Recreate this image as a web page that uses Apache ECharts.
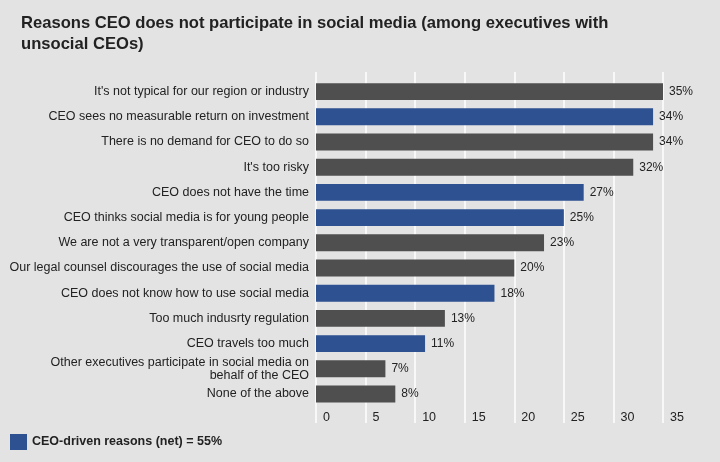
<!DOCTYPE html>
<html>
<head>
<meta charset="utf-8">
<script src="https://cdn.jsdelivr.net/npm/echarts@6/dist/echarts.min.js"></script>
<style>
  html, body { margin: 0; padding: 0; background: #e3e3e3; }
  #chart { width: 720px; height: 462px; }
</style>
</head>
<body>
<div id="chart"></div>
<script>
// reasons, top to bottom as in the reference
const categories = [
    "It's not typical for our region or industry",
    'CEO sees no measurable return on investment',
    'There is no demand for CEO to do so',
    "It's too risky",
    'CEO does not have the time',
    'CEO thinks social media is for young people',
    'We are not a very transparent/open company',
    'Our legal counsel discourages the use of social media',
    'CEO does not know how to use social media',
    'Too much indusrty regulation',
    'CEO travels too much',
    'Other executives participate in social media on\nbehalf of the CEO',
    'None of the above'
];
const values = [35, 34, 34, 32, 27, 25, 23, 20, 18, 13, 11, 7, 8];
// true = CEO-driven reason (blue bar)
const ceoDriven = [false, true, false, false, true, true, false, false, true, false, true, false, false];
const xTicks = [0, 5, 10, 15, 20, 25, 30, 35];
const legendLabel = 'CEO-driven reasons (net) = 55%';

const BLUE = '#2d5191';
const GRAY = '#4f4f4f';
const FONT = '"Liberation Sans", Arial, Helvetica, sans-serif';

const blueData = values.map((v, i) => ceoDriven[i] ? v : '-');
const grayData = values.map((v, i) => ceoDriven[i] ? '-' : v);

const chart = echarts.init(document.getElementById('chart'));

const barLabel = {
    show: true,
    position: 'right',
    distance: 6,
    color: '#222',
    fontSize: 12,
    fontFamily: FONT,
    formatter: '{c}%'
};

const option = {
    backgroundColor: '#e3e3e3',
    animation: false,
    textStyle: { fontFamily: FONT },
    title: {
        text: 'Reasons CEO does not participate in social media (among executives with\nunsocial CEOs)',
        left: 21,
        top: 13,
        padding: 0,
        textStyle: { fontSize: 16.6, fontWeight: 'bold', color: '#222', lineHeight: 21, fontFamily: FONT }
    },
    legend: {
        data: [legendLabel],
        left: 10,
        top: 434,
        padding: 0,
        icon: 'rect',
        itemWidth: 17,
        itemHeight: 16,
        textStyle: { fontSize: 12.5, fontWeight: 'bold', color: '#222', fontFamily: FONT }
    },
    grid: [
        // bars
        { left: 316, right: 57, top: 79, height: 327.6, containLabel: false, outerBoundsMode: 'none' },
        // gridlines + tick labels (taller than the bar area)
        { left: 316, right: 57, top: 72, height: 351, containLabel: false, outerBoundsMode: 'none' }
    ],
    xAxis: [
        { gridIndex: 0, type: 'value', min: 0, max: 35, show: false },
        {
            gridIndex: 1,
            type: 'value',
            min: 0,
            max: 35,
            interval: 5,
            axisLine: { show: false },
            axisTick: { show: false },
            splitLine: { show: true, lineStyle: { color: '#ffffff', width: 1.5 } },
            axisLabel: {
                color: '#222',
                fontSize: 12.5,
                fontFamily: FONT,
                align: 'left',
                verticalAlign: 'middle',
                margin: -5,
                padding: [0, 0, 0, 7],
                formatter: v => xTicks.includes(v) ? String(v) : ''
            }
        }
    ],
    yAxis: [
        {
            gridIndex: 0,
            type: 'category',
            inverse: true,
            data: categories,
            axisLine: { show: false },
            axisTick: { show: false },
            axisLabel: { color: '#222', fontSize: 12.5, fontFamily: FONT, margin: 7, lineHeight: 13, align: 'right' }
        },
        { gridIndex: 1, type: 'value', show: false }
    ],
    series: [
        {
            name: legendLabel,
            type: 'bar',
            stack: 'all',
            xAxisIndex: 0,
            yAxisIndex: 0,
            data: blueData,
            barCategoryGap: '33%',
            itemStyle: { color: BLUE },
            label: barLabel
        },
        {
            name: 'other',
            type: 'bar',
            stack: 'all',
            xAxisIndex: 0,
            yAxisIndex: 0,
            data: grayData,
            barCategoryGap: '33%',
            itemStyle: { color: GRAY },
            label: barLabel
        }
    ]
};

chart.setOption(option);
</script>
</body>
</html>
